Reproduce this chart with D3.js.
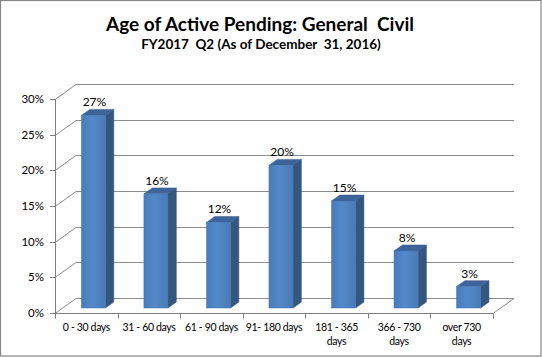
<!DOCTYPE html>
<html>
<head>
<meta charset="utf-8">
<script src="https://cdn.jsdelivr.net/npm/d3@7"></script>
<style>
  body { margin: 0; background: #fff; }
  svg text { font-family: Lato, "Open Sans", sans-serif; fill: #000; }
</style>
</head>
<body>
<svg id="chart" width="542" height="357"></svg>
<script>
const title = "Age of Active Pending: General  Civil";
const subtitle = "FY2017  Q2 (As of December  31, 2016)";
const categories = ["0 - 30 days", "31 - 60 days", "61 - 90 days", "91- 180 days", "181 - 365|days", "366 - 730|days", "over 730|days"];
const values = [0.27, 0.16, 0.12, 0.20, 0.15, 0.08, 0.03];
const yTicks = [0, 0.05, 0.10, 0.15, 0.20, 0.25, 0.30];

(function () {
const svg = d3.select("#chart");
const W = 542, H = 357;

svg.append("rect").attr("x", 0.5).attr("y", 0.5).attr("width", W - 1.5).attr("height", H - 1.5)
  .attr("fill", "#fff").attr("stroke", "#878787").attr("stroke-width", 1.2);

svg.append("text").attr("x", 260).attr("y", 31).attr("text-anchor", "middle")
  .attr("font-size", 19).attr("font-weight", "bold").style("white-space", "pre").text(title);
svg.append("text").attr("x", 261).attr("y", 49).attr("text-anchor", "middle")
  .attr("font-size", 13.5).attr("font-weight", "bold").style("white-space", "pre").text(subtitle);

const pL = 55, pR = 493, pB = 313, pT = 99;
const DX = 21, DY = -15;
const f0 = 1 / 3, f1 = 0.73;

const x = d3.scaleBand().domain(categories).range([pL, pR]).paddingInner(0.615).paddingOuter(0.31);
const y = d3.scaleLinear().domain([0, 0.30]).range([pB, pT]);

const grid = svg.append("g").attr("stroke", "#8c8c8c").attr("stroke-width", 1).attr("fill", "none");
yTicks.forEach(v => {
  const yy = Math.round(y(v)) + 0.5;
  grid.append("path").attr("d", `M${pL},${yy} L${pL + DX},${yy + DY} L${pR + DX},${yy + DY}`);
});
grid.append("path").attr("d", `M${pR},${pB + 0.5} L${pR + DX},${pB + 0.5 + DY}`);

const axisG = svg.append("g").attr("stroke", "#7f7f7f").attr("stroke-width", 1).attr("fill", "none");
axisG.append("path").attr("d", `M${pL + 0.5},${y(0.30)} V${pB + 0.5} H${pR}`);
yTicks.forEach(v => {
  const yy = Math.round(y(v)) + 0.5;
  axisG.append("path").attr("d", `M${pL - 5},${yy} H${pL + 0.5}`);
});
d3.range(categories.length + 1).forEach(i => {
  const xx = Math.round(pL + i * (pR - pL) / categories.length) + 0.5;
  axisG.append("path").attr("d", `M${xx},${pB + 0.5} V${pB + 5.5}`);
});

svg.append("g").selectAll("text").data(yTicks).join("text")
  .attr("x", 44).attr("y", d => y(d)).attr("dy", "0.35em").attr("text-anchor", "end")
  .attr("font-size", 11.5).text(d3.format(".0%"));

const xl = svg.append("g").selectAll("text").data(categories).join("text")
  .attr("text-anchor", "middle").attr("font-size", 10.5).attr("letter-spacing", -0.35)
  .attr("transform", d => `translate(${x(d) + x.bandwidth() / 2},${331})`);
xl.each(function (d) {
  const lines = d.split("|");
  d3.select(this).selectAll("tspan").data(lines).join("tspan")
    .attr("x", 0).attr("dy", (s, i) => i === 0 ? 0 : 14).text(s => s);
});

const defs = svg.append("defs");
const gFront = defs.append("linearGradient").attr("id", "gFront").attr("x1", 0).attr("x2", 1).attr("y1", 0).attr("y2", 0);
gFront.append("stop").attr("offset", "0%").attr("stop-color", "#4a7bb9");
gFront.append("stop").attr("offset", "45%").attr("stop-color", "#5289cb");
gFront.append("stop").attr("offset", "100%").attr("stop-color", "#4a7ab6");

const bars = svg.append("g");
categories.forEach((c, i) => {
  const v = values[i];
  const ox = DX * f0, oy = DY * f0;
  const bx = DX * (f1 - f0), by = DY * (f1 - f0);
  const x0 = x(c) + ox, x1 = x(c) + x.bandwidth() + ox;
  const yb = y(0) + oy, yt = y(v) + oy;
  bars.append("path").attr("d", `M${x1},${yb} L${x1 + bx},${yb + by} L${x1 + bx},${yt + by} L${x1},${yt} Z`)
    .attr("fill", "#34577f").attr("stroke", "#2f4e74").attr("stroke-width", 0.5);
  bars.append("path").attr("d", `M${x0},${yt} L${x0 + bx},${yt + by} L${x1 + bx},${yt + by} L${x1},${yt} Z`)
    .attr("fill", "#3d659b").attr("stroke", "#36598a").attr("stroke-width", 0.5);
  bars.append("rect").attr("x", x0).attr("y", yt).attr("width", x1 - x0).attr("height", yb - yt)
    .attr("fill", "url(#gFront)").attr("stroke", "#4676b0").attr("stroke-width", 0.5);
  svg.append("text").attr("x", (x0 + x1) / 2 + 1).attr("y", yt + by - 3).attr("text-anchor", "middle")
    .attr("font-size", 12).text(d3.format(".0%")(v));
});
})();
</script>
</body>
</html>
